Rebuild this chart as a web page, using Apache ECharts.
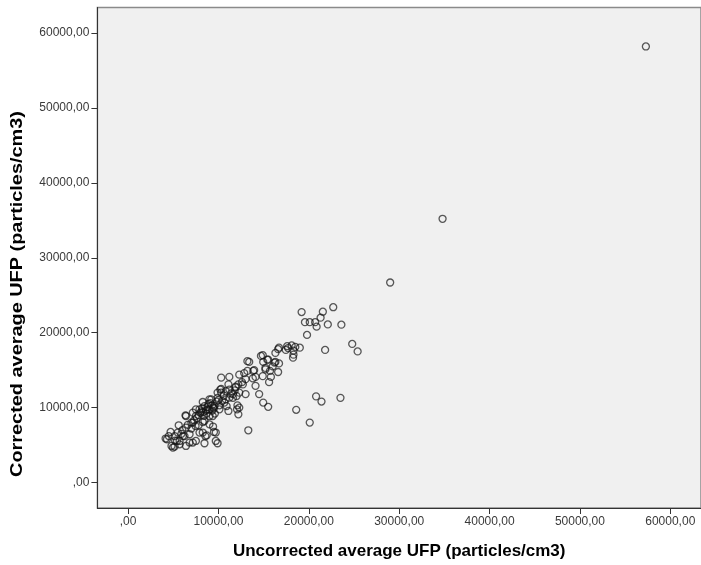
<!DOCTYPE html>
<html>
<head>
<meta charset="utf-8">
<title>Corrected vs uncorrected average UFP</title>
<script src="https://cdn.jsdelivr.net/npm/echarts@6/dist/echarts.min.js"></script>
<style>
  html, body { margin: 0; padding: 0; background: #ffffff; }
  #chart { width: 701px; height: 565px; }
</style>
</head>
<body>
<div id="chart"></div>
<script>
// Uncorrected average UFP (particles/cm3), one entry per measurement
var uncorrected = [
  57300, 34800, 29000,
  19200, 21550, 22700, 21300, 19570, 20100, 20700, 20860, 22100, 23600, 19800, 21800, 24800, 25400,
  18100, 17700, 18500, 19000, 17450, 18300, 18250, 18300, 16600, 16300, 14900, 15500, 14950, 16300,
  16700, 15200, 16000, 15700, 16600, 13850, 13400, 14100, 15800,
  18600, 20800, 21400, 23500, 20100,
  16700, 17600, 15400, 16200, 15600, 15200, 13200, 12850, 13950, 13800, 14100, 14500, 14950, 15500,
  12300, 11200, 10300, 11100, 11900, 10800, 10200, 12300, 11600, 9900, 9000, 8260, 10650, 12100, 12700,
  13300, 9900, 12200, 12050, 11100, 4300, 4960, 4700, 5600, 6400, 7900, 8450, 7160, 6400, 5700,
  9700, 9400, 8700, 6800, 7460, 8260, 9000, 8800, 9550, 9900, 10300, 11200, 11900, 11600, 10800, 10100,
  12200, 13000, 13200, 14900, 14700, 7500, 7160, 5500, 6060, 5140, 5400, 4800, 7900, 8450, 9360,
  4150, 5140, 5700, 6350, 7160, 7500, 9000, 9700, 9500, 9000, 8260, 7500, 6800, 6240, 6400, 7000,
  7800, 8550, 10100, 12300, 10300, 11200, 12000, 13000, 9200, 8450,
  8000, 8600, 9300, 8200, 8900, 9600, 8400, 7800, 10400, 9800, 10900, 7000, 6000, 5200, 4500, 9300, 8700,
  8100, 8800, 9500, 7600, 10600, 11400, 8300, 9100, 7300, 6600, 10000, 9400, 11800, 12600, 5900
];

// Corrected average UFP (particles/cm3), same order as above
var corrected = [
  58200, 35200, 26700,
  22750, 22800, 23400, 22000, 21400, 21400, 21400, 20800, 21100, 21070, 19700, 17700, 18500, 17500,
  18300, 17950, 18100, 18000, 17700, 17600, 16670, 17070, 17800, 17300, 17000, 16400, 16100, 16100,
  15900, 15300, 15500, 14900, 14750, 14900, 16100, 14100, 14100,
  9700, 11500, 10800, 11300, 8000,
  18000, 18200, 16400, 16000, 13400, 15100, 16200, 14600, 15000, 13900, 12900, 11800, 10670, 10100,
  14400, 14100, 14000, 13100, 12700, 12200, 12400, 12000, 11300, 11300, 11100, 10750, 10670, 10300, 13100,
  6970, 5240, 9100, 9770, 9550, 5770, 4670, 6750, 7640, 8880, 9770, 5240, 5330, 4880, 5100,
  6670, 7470, 6300, 6440, 7550, 8080, 8880, 9770, 10200, 12000, 12500, 12400, 12800, 11800, 11100, 10300,
  13100, 13800, 14900, 14200, 16900, 8880, 8000, 6670, 6200, 6200, 5550, 4880, 6670, 8200, 8880,
  5870, 4800, 5550, 8970, 9330, 9770, 9770, 5550, 6750, 7770, 6670, 5550, 5330, 6200, 7330, 8000,
  7640, 6200, 9770, 10000, 12000, 11330, 11550, 11800, 11100, 10200,
  9300, 9600, 10300, 9900, 10500, 9200, 8900, 9000, 10900, 10800, 10200, 7200, 7000, 5600, 6200, 9600, 9200,
  9500, 10100, 9900, 8600, 11600, 11900, 9400, 10600, 8300, 7700, 11000, 10000, 12300, 13400, 6500
];

// Tick positions shared by both axes
var tickValues = [0, 10000, 20000, 30000, 40000, 50000, 60000];

function tickLabel(v) {
  return v === 0 ? ',00' : v + ',00';
}

var points = uncorrected.map(function (x, i) { return [x, corrected[i]]; });

var labelFont = 'Arial, "Liberation Sans", sans-serif';

function makeAxis(extra) {
  var axis = {
    type: 'value',
    min: -3400,
    max: 63400,
    splitLine: { show: false },
    axisLine: { show: true, onZero: false, lineStyle: { color: '#333333', width: 1 } },
    axisTick: { show: true, length: 6, customValues: tickValues, lineStyle: { color: '#333333', width: 1 } },
    axisLabel: {
      customValues: tickValues,
      formatter: tickLabel,
      color: '#3a3a3a',
      fontSize: 12,
      fontFamily: labelFont
    }
  };
  for (var k in extra) axis[k] = extra[k];
  return axis;
}

var chart = echarts.init(document.getElementById('chart'), null, { renderer: 'canvas' });

chart.setOption({
  animation: false,
  backgroundColor: '#ffffff',
  grid: {
    left: 97.4,
    top: 7.5,
    width: 606.8,
    height: 501.3,
    show: true,
    backgroundColor: '#f0f0f0',
    borderColor: '#8a8a8a',
    borderWidth: 1.5
  },
  xAxis: makeAxis({
    name: 'Uncorrected average UFP (particles/cm3)',
    nameLocation: 'middle',
    nameGap: 35,
    nameTextStyle: { fontSize: 17, fontWeight: 'bold', color: '#000000', fontFamily: labelFont }
  }),
  yAxis: makeAxis({}),
  graphic: [{
    type: 'text',
    x: 17,
    y: 294,
    rotation: Math.PI / 2,
    scaleX: 1.17,
    style: {
      text: 'Corrected average UFP (particles/cm3)',
      font: 'bold 17px Arial, "Liberation Sans", sans-serif',
      fill: '#000000',
      align: 'center',
      verticalAlign: 'middle'
    }
  }],
  series: [{
    type: 'scatter',
    data: points,
    symbol: 'circle',
    symbolSize: 7,
    itemStyle: {
      color: 'rgba(0,0,0,0)',
      borderColor: 'rgba(20,20,20,0.88)',
      borderWidth: 1.3
    }
  }]
});
</script>
</body>
</html>
